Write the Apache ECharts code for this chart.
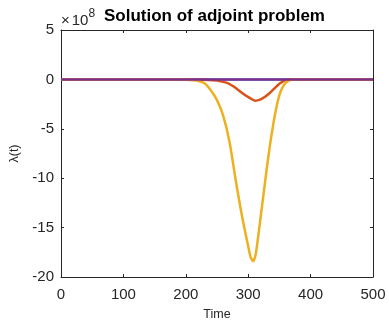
<!DOCTYPE html>
<html><head><meta charset="utf-8">
<script src="https://cdn.jsdelivr.net/npm/echarts@6/dist/echarts.min.js"></script>
<style>html,body{margin:0;padding:0;background:#fff}#c{width:389px;height:321px}</style>
</head><body><div id="c"></div>
<script>
const xTicks = [0,100,200,300,400,500];
const yTicks = [-20,-15,-10,-5,0,5];
const blueSeries = [[0,0],[500,0]];
const orangeSeries = [[0,0],[210,0],[230,-0.04],[250,-0.12],[260,-0.25],[268,-0.4],[276,-0.7],[284,-1.07],[293,-1.5],[303,-1.9],[311,-2.15],[319,-2.05],[327,-1.75],[335,-1.35],[343,-0.85],[351,-0.4],[358,-0.12],[365,-0.02],[375,0],[500,0]];
const yellowSeries = [[0,0],[190,0],[200,-0.03],[210,-0.08],[220,-0.16],[230,-0.4],[240,-1.1],[250,-2.1],[260,-3.7],[270,-6.3],[280,-10.2],[290,-13.8],[300,-16.9],[304,-18.0],[308,-18.4],[312,-17.7],[316,-15.9],[320,-13.9],[325,-11.4],[330,-8.9],[335,-6.6],[340,-4.6],[345,-2.9],[350,-1.6],[355,-0.8],[360,-0.35],[365,-0.12],[370,-0.04],[380,0],[500,0]];
const purpleSeries = [[0,0],[500,0]];

const chart = echarts.init(document.getElementById('c'), null, {renderer:'canvas'});
const axCol = '#262626';
const font = 'Liberation Sans, Arial, sans-serif';
function mkLine(data, color, w, z){
  return {type:'line', data:data, xAxisIndex:0, yAxisIndex:0, showSymbol:false, smooth:0.25,
    lineStyle:{color:color, width:w}, z:z, animation:false};
}
const tick = {inside:true, length:3, lineStyle:{color:axCol}};
const line = {onZero:false, lineStyle:{color:axCol, width:1}};
chart.setOption({
  animation:false,
  title:{text:'Solution of adjoint problem', left:99, top:3,
    textStyle:{fontFamily:font, fontSize:17, fontWeight:'bold', color:'#000'}},
  grid:{left:61, right:16, top:30, bottom:44, containLabel:false, outerBoundsMode:'none'},
  xAxis:[
    {type:'value', min:0, max:500, interval:100, position:'bottom',
     axisLine:line, axisTick:tick,
     axisLabel:{color:axCol, fontSize:15, fontFamily:font, margin:10, formatter:v=>xTicks.includes(v)?String(v):''},
     splitLine:{show:false},
     name:'Time', nameLocation:'middle', nameGap:31, nameTextStyle:{color:axCol, fontSize:12.5, fontFamily:font}},
    {type:'value', min:0, max:500, interval:100, position:'top',
     axisLine:line, axisTick:tick, axisLabel:{show:false}, splitLine:{show:false}}
  ],
  yAxis:[
    {type:'value', min:-20, max:5, interval:5, position:'left',
     axisLine:line, axisTick:tick,
     axisLabel:{color:axCol, fontSize:15, fontFamily:font, margin:7, formatter:v=>yTicks.includes(v)?String(v):''},
     splitLine:{show:false},
     name:'λ(t)', nameLocation:'middle', nameGap:40, nameRotate:90, nameTextStyle:{color:axCol, fontSize:12.5, fontFamily:font}},
    {type:'value', min:-20, max:5, interval:5, position:'right',
     axisLine:line, axisTick:tick, axisLabel:{show:false}, splitLine:{show:false}}
  ],
  graphic:[{type:'text', left:61, top:8, style:{
    text:'{a|×}{c|10}{b|8}', rich:{
      a:{fontSize:15, fontFamily:font, fill:axCol, verticalAlign:'bottom', padding:[5,2,0,0]},
      c:{fontSize:15, fontFamily:font, fill:axCol, verticalAlign:'bottom', padding:[5,0,0,0]},
      b:{fontSize:12, fontFamily:font, fill:axCol, verticalAlign:'top', padding:[0,0,8,0]}}}}],
  series:[
    mkLine(blueSeries, '#0072BD', 2, 2),
    mkLine(orangeSeries, '#D95319', 2.5, 3),
    mkLine(yellowSeries, '#EDB120', 2.5, 4),
    mkLine(purpleSeries, '#7E2F8E', 2.5, 5)
  ]
});
</script></body></html>
